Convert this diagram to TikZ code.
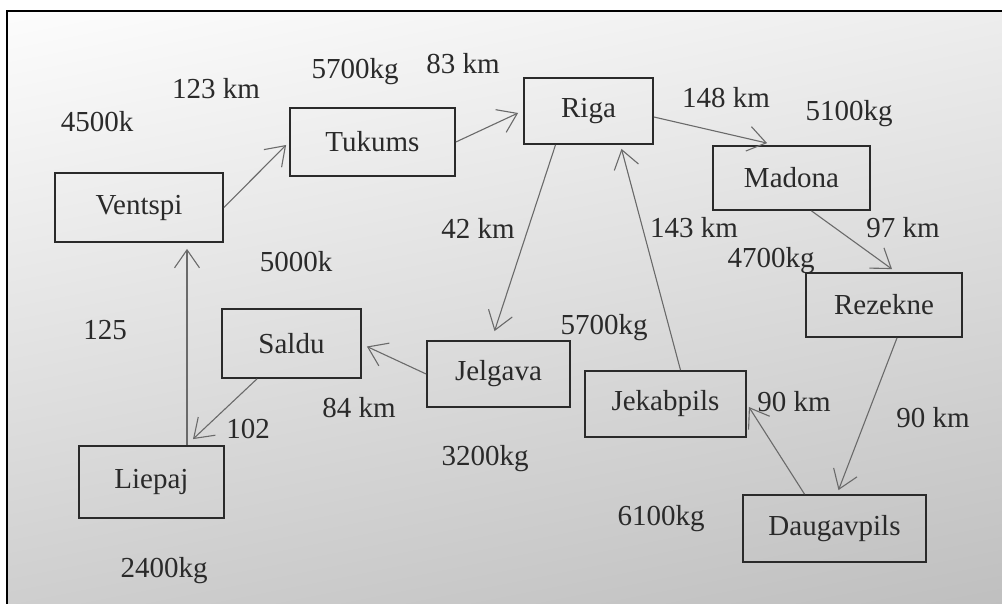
\documentclass[tikz,border=0pt]{standalone}
\usepackage{fontspec}
\setmainfont{Liberation Serif}
\usetikzlibrary{arrows.meta,calc,shadings}
\definecolor{ink}{HTML}{2A2A2A}
\definecolor{wire}{HTML}{6A6A6A}
\begin{document}
\begin{tikzpicture}[x=1pt,y=-1pt,
  city/.style={draw=ink,line width=1.8pt,text=ink,inner sep=0pt,
    font=\fontsize{29}{30}\selectfont},
  lbl/.style={text=ink,inner sep=0pt,font=\fontsize{29}{30}\selectfont},
  route/.style={draw=wire,line width=1.1pt,
    -{Straight Barb[length=18pt,width=25pt,line width=1.1pt]}}]
% paper and frame
\useasboundingbox (0,0) rectangle (1002,604);
\fill[white] (0,0) rectangle (1002,604);
\shade[upper left=white!98!gray,upper right=gray!14,
       lower left=gray!38,lower right=gray!50] (7,11) rectangle (1002,604);
\draw[black,line width=2.6pt] (7,604) -- (7,11) -- (1002,11);

% cities
\node[city,minimum width=168pt,minimum height=69pt] (ventspi)    at (139,207.5) {Ventspi};
\node[city,minimum width=165pt,minimum height=68pt] (tukums)     at (372.5,142) {Tukums};
\node[city,minimum width=129pt,minimum height=66pt] (riga)       at (588.5,111) {Riga};
\node[city,minimum width=157pt,minimum height=64pt] (madona)     at (791.5,178) {Madona};
\node[city,minimum width=156pt,minimum height=64pt] (rezekne)    at (884,305)   {Rezekne};
\node[city,minimum width=139pt,minimum height=69pt] (saldu)      at (291.5,343.5) {Saldu};
\node[city,minimum width=145pt,minimum height=72pt] (liepaj)     at (151.5,482) {Liepaj};
\node[city,minimum width=143pt,minimum height=66pt] (jelgava)    at (498.5,374) {Jelgava};
\node[city,minimum width=161pt,minimum height=66pt] (jekabpils)  at (665.5,404) {Jekabpils};
\node[city,minimum width=183pt,minimum height=67pt] (daugavpils) at (834.5,528.5) {Daugavpils};

% routes
\draw[route] (ventspi.east) -- ($(tukums.west)+(-3,3)$);
\draw[route] (tukums.east) -- ($(riga.west)+(-5,2)$);
\draw[route] ($(riga.south)+(-33,0)$) -- ($(jelgava.north)+(-4,-9)$);
\draw[route] ($(riga.east)+(0,6)$) -- ($(madona.north west)+(55,-2)$);
\draw[route] ($(madona.south)+(20,0)$) -- ($(rezekne.north)+(8,-3)$);
\draw[route] ($(rezekne.south)+(13,0)$) -- ($(daugavpils.north)+(4,-4)$);
\draw[route] ($(daugavpils.north)+(-30,0)$) -- ($(jekabpils.east)+(2,3)$);
\draw[route] ($(jekabpils.north)+(15,0)$) -- ($(riga.south)+(33,4)$);
\draw[route] (jelgava.west) -- ($(saldu.east)+(5,3)$);
\draw[route] ($(saldu.south)+(-34.5,0)$) -- ($(liepaj.north)+(41.5,-6)$);
\draw[route] ($(liepaj.north)+(35.5,0)$) -- ($(ventspi.south)+(48,6)$);

% distances and loads
\node[lbl] (w4500) at (97,122)  {4500k};
\node[lbl] (d123)  at (216,89)  {123 km};
\node[lbl] (w5700a) at (355,72) {5700kg};
\node[lbl] (d83)   at (463,64)  {83 km};
\node[lbl] (d42)   at (478,228) {42 km};
\node[lbl] (w5000) at (296,262) {5000k};
\node[lbl] (d125)  at (105,330) {125};
\node[lbl] (d148)  at (726,98)  {148 km};
\node[lbl] (w5100) at (849,114) {5100kg};
\node[lbl] (d143)  at (694,228) {143 km};
\node[lbl] (d97)   at (903,228) {97 km};
\node[lbl] (w4700) at (771,261) {4700kg};
\node[lbl] (w5700b) at (604,328) {5700kg};
\node[lbl] (d84)   at (359,408) {84 km};
\node[lbl] (d102)  at (248,429) {102};
\node[lbl] (w3200) at (485,459) {3200kg};
\node[lbl] (w2400) at (164,571) {2400kg};
\node[lbl] (d90a)  at (794,402) {90 km};
\node[lbl] (d90b)  at (933,418) {90 km};
\node[lbl] (w6100) at (661,519) {6100kg};
\end{tikzpicture}
\end{document}
